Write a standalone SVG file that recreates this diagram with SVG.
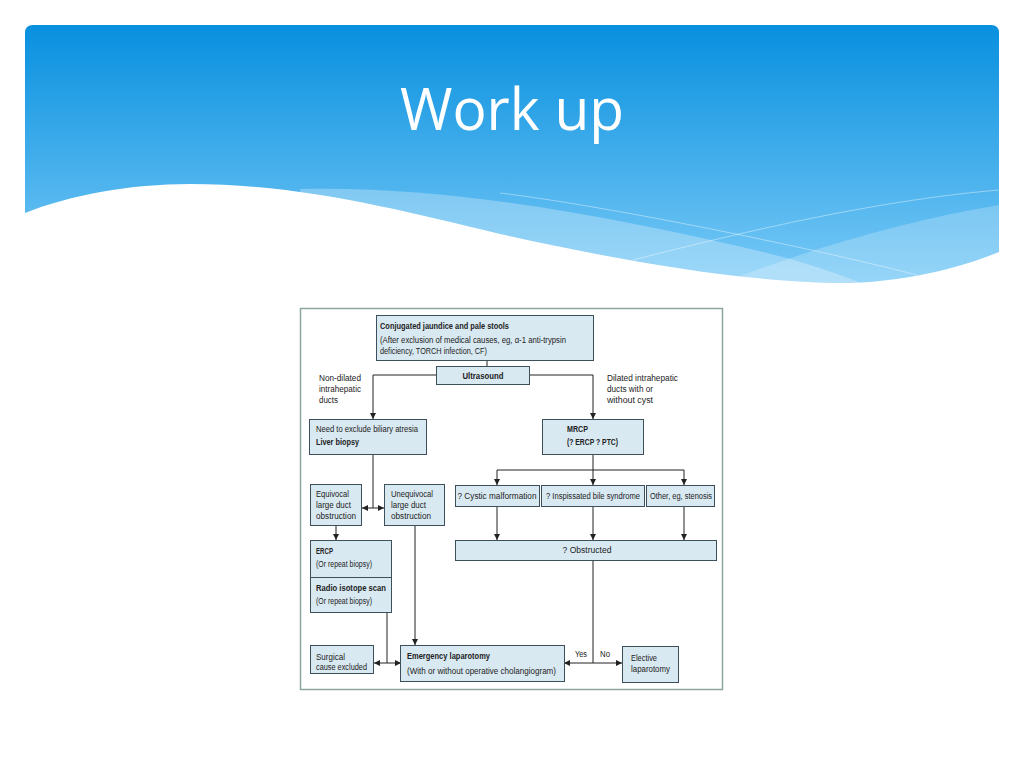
<svg xmlns="http://www.w3.org/2000/svg" width="1024" height="768" viewBox="0 0 1024 768">
<defs>
<linearGradient id="hdr" x1="0" y1="25" x2="0" y2="290" gradientUnits="userSpaceOnUse">
<stop offset="0" stop-color="#0890df"/>
<stop offset="1" stop-color="#7ccbf7"/>
</linearGradient>
<marker id="ah" markerWidth="6" markerHeight="6" refX="6" refY="3" orient="auto-start-reverse" markerUnits="userSpaceOnUse">
<path d="M0,0 L6,3 L0,6 z" fill="#222"/>
</marker>
<style>
.box{fill:#d9e9f2;stroke:#3e4f5c;stroke-width:1}
.t{font-family:"Liberation Sans",Arial,sans-serif;font-size:8.5px;fill:#222}
.b{font-weight:bold}
.c{text-anchor:middle}
.ln{fill:none;stroke:#222;stroke-width:1}
.ar{marker-end:url(#ah)}
.da{marker-start:url(#ah);marker-end:url(#ah)}
</style>
</defs>
<rect width="1024" height="768" fill="#fff"/>
<g id="header">
<path d="M25,33 Q25,25 33,25 L991,25 Q999,25 999,33 L999,300 L25,300 Z" fill="url(#hdr)"/>
<path d="M300,189 C450,185 620,218 767,253 C820,266 870,285 900,300 L300,300 Z" fill="#fff" opacity="0.28"/>
<path d="M680,300 C770,262 880,225 999,205 L999,300 Z" fill="#fff" opacity="0.22"/>
<path d="M500,193 C600,205 800,245 917,275" fill="none" stroke="#fff" stroke-opacity="0.4" stroke-width="1"/>
<path d="M633,260 C750,230 880,200 999,190" fill="none" stroke="#fff" stroke-opacity="0.4" stroke-width="1"/>
<path d="M25,213 C70,195 130,184 190,184 C300,184 400,210 500,234 C600,256 720,280 833,283 C900,284 960,268 999,252 L999,310 L25,310 Z" fill="#fff"/>
<text x="512" y="130" font-family="'Open Sans',sans-serif" font-size="58" fill="#fff" text-anchor="middle" textLength="224" lengthAdjust="spacingAndGlyphs">Work up</text>
</g>
<rect id="frame" x="300.5" y="308.5" width="422" height="381" fill="#fff" stroke="#8aa69c" stroke-width="1.5"/>
<g id="connectors">
<path class="ln" d="M487,360 V366"/>
<path class="ln ar" d="M436,375 H373 V419"/>
<path class="ln ar" d="M529,375 H593 V419"/>
<path class="ln" d="M373,454 V508"/>
<path class="ln da" d="M362,508 H384"/>
<path class="ln ar" d="M336,525 V540"/>
<path class="ln ar" d="M415,525 V645"/>
<path class="ln" d="M387,612 V663"/>
<path class="ln da" d="M374,663 H401"/>
<path class="ln" d="M593,454 V470 M497,470 H684"/>
<path class="ln ar" d="M497,470 V485"/>
<path class="ln ar" d="M593,470 V485"/>
<path class="ln ar" d="M684,470 V485"/>
<path class="ln ar" d="M497,506 V540"/>
<path class="ln ar" d="M593,506 V540"/>
<path class="ln ar" d="M684,506 V540"/>
<path class="ln" d="M593,560 V663"/>
<path class="ln da" d="M564,663 H622"/>
<text class="t c" x="581" y="657" textLength="12" lengthAdjust="spacingAndGlyphs">Yes</text>
<text class="t c" x="605" y="657" textLength="10" lengthAdjust="spacingAndGlyphs">No</text>
<text class="t" x="319" y="381" textLength="42" lengthAdjust="spacingAndGlyphs">Non-dilated</text>
<text class="t" x="319" y="392" textLength="42" lengthAdjust="spacingAndGlyphs">intrahepatic</text>
<text class="t" x="319" y="403" textLength="19" lengthAdjust="spacingAndGlyphs">ducts</text>
<text class="t" x="607" y="381" textLength="71" lengthAdjust="spacingAndGlyphs">Dilated intrahepatic</text>
<text class="t" x="607" y="392" textLength="46" lengthAdjust="spacingAndGlyphs">ducts with or</text>
<text class="t" x="607" y="403" textLength="46" lengthAdjust="spacingAndGlyphs">without cyst</text>
</g>
<g id="n-start">
<rect class="box" x="376.5" y="315.5" width="217" height="45"/>
<text class="t b" x="380" y="329" textLength="129" lengthAdjust="spacingAndGlyphs">Conjugated jaundice and pale stools</text>
<text class="t" x="380" y="343" textLength="186" lengthAdjust="spacingAndGlyphs">(After exclusion of medical causes, eg, α-1 anti-trypsin</text>
<text class="t" x="380" y="354" textLength="107" lengthAdjust="spacingAndGlyphs">deficiency, TORCH infection, CF)</text>
</g>
<g id="n-ultrasound">
<rect class="box" x="436.5" y="366.5" width="93" height="18"/>
<text class="t b c" x="483" y="379" textLength="41" lengthAdjust="spacingAndGlyphs">Ultrasound</text>
</g>
<g id="n-liver">
<rect class="box" x="309.5" y="419.5" width="117" height="35"/>
<text class="t" x="316" y="432" textLength="102" lengthAdjust="spacingAndGlyphs">Need to exclude biliary atresia</text>
<text class="t b" x="316" y="445" textLength="43" lengthAdjust="spacingAndGlyphs">Liver biopsy</text>
</g>
<g id="n-mrcp">
<rect class="box" x="542.5" y="419.5" width="101" height="35"/>
<text class="t b" x="567" y="432" textLength="21" lengthAdjust="spacingAndGlyphs">MRCP</text>
<text class="t b" x="567" y="445" textLength="51" lengthAdjust="spacingAndGlyphs">(? ERCP ? PTC)</text>
</g>
<g id="n-equivocal">
<rect class="box" x="310.5" y="484.5" width="51" height="41"/>
<text class="t" x="316" y="497" textLength="33" lengthAdjust="spacingAndGlyphs">Equivocal</text>
<text class="t" x="316" y="508" textLength="35" lengthAdjust="spacingAndGlyphs">large duct</text>
<text class="t" x="316" y="519" textLength="40" lengthAdjust="spacingAndGlyphs">obstruction</text>
</g>
<g id="n-unequivocal">
<rect class="box" x="384.5" y="484.5" width="60" height="41"/>
<text class="t" x="391" y="497" textLength="42" lengthAdjust="spacingAndGlyphs">Unequivocal</text>
<text class="t" x="391" y="508" textLength="35" lengthAdjust="spacingAndGlyphs">large duct</text>
<text class="t" x="391" y="519" textLength="40" lengthAdjust="spacingAndGlyphs">obstruction</text>
</g>
<g id="n-cystic">
<rect class="box" x="455.5" y="485.5" width="84" height="21"/>
<text class="t c" x="497" y="499" textLength="79" lengthAdjust="spacingAndGlyphs">? Cystic malformation</text>
</g>
<g id="n-inspissated">
<rect class="box" x="541.5" y="485.5" width="103" height="21"/>
<text class="t c" x="593" y="499" textLength="94" lengthAdjust="spacingAndGlyphs">? Inspissated bile syndrome</text>
</g>
<g id="n-other">
<rect class="box" x="646.5" y="485.5" width="68" height="21"/>
<text class="t c" x="681" y="499" textLength="62" lengthAdjust="spacingAndGlyphs">Other, eg, stenosis</text>
</g>
<g id="n-ercp">
<rect class="box" x="310.5" y="540.5" width="81" height="72"/>
<line x1="310.5" y1="577.5" x2="391.5" y2="577.5" stroke="#3e4f5c" stroke-width="1"/>
<text class="t b" x="316" y="554" textLength="17" lengthAdjust="spacingAndGlyphs">ERCP</text>
<text class="t" x="316" y="567" textLength="56" lengthAdjust="spacingAndGlyphs">(Or repeat biopsy)</text>
<text class="t b" x="316" y="591" textLength="70" lengthAdjust="spacingAndGlyphs">Radio isotope scan</text>
<text class="t" x="316" y="604" textLength="56" lengthAdjust="spacingAndGlyphs">(Or repeat biopsy)</text>
</g>
<g id="n-obstructed">
<rect class="box" x="455.5" y="540.5" width="261" height="20"/>
<text class="t c" x="587" y="553" textLength="49" lengthAdjust="spacingAndGlyphs">? Obstructed</text>
</g>
<g id="n-surgical">
<rect class="box" x="310.5" y="645.5" width="63" height="28"/>
<text class="t" x="316" y="660" textLength="29" lengthAdjust="spacingAndGlyphs">Surgical</text>
<text class="t" x="316" y="670" textLength="51" lengthAdjust="spacingAndGlyphs">cause excluded</text>
</g>
<g id="n-emergency">
<rect class="box" x="400.5" y="645.5" width="164" height="36"/>
<text class="t b" x="407" y="659" textLength="83" lengthAdjust="spacingAndGlyphs">Emergency laparotomy</text>
<text class="t" x="407" y="674" textLength="149" lengthAdjust="spacingAndGlyphs">(With or without operative cholangiogram)</text>
</g>
<g id="n-elective">
<rect class="box" x="622.5" y="646.5" width="56" height="36"/>
<text class="t" x="631" y="661" textLength="26" lengthAdjust="spacingAndGlyphs">Elective</text>
<text class="t" x="631" y="672" textLength="39" lengthAdjust="spacingAndGlyphs">laparotomy</text>
</g>
</svg>
